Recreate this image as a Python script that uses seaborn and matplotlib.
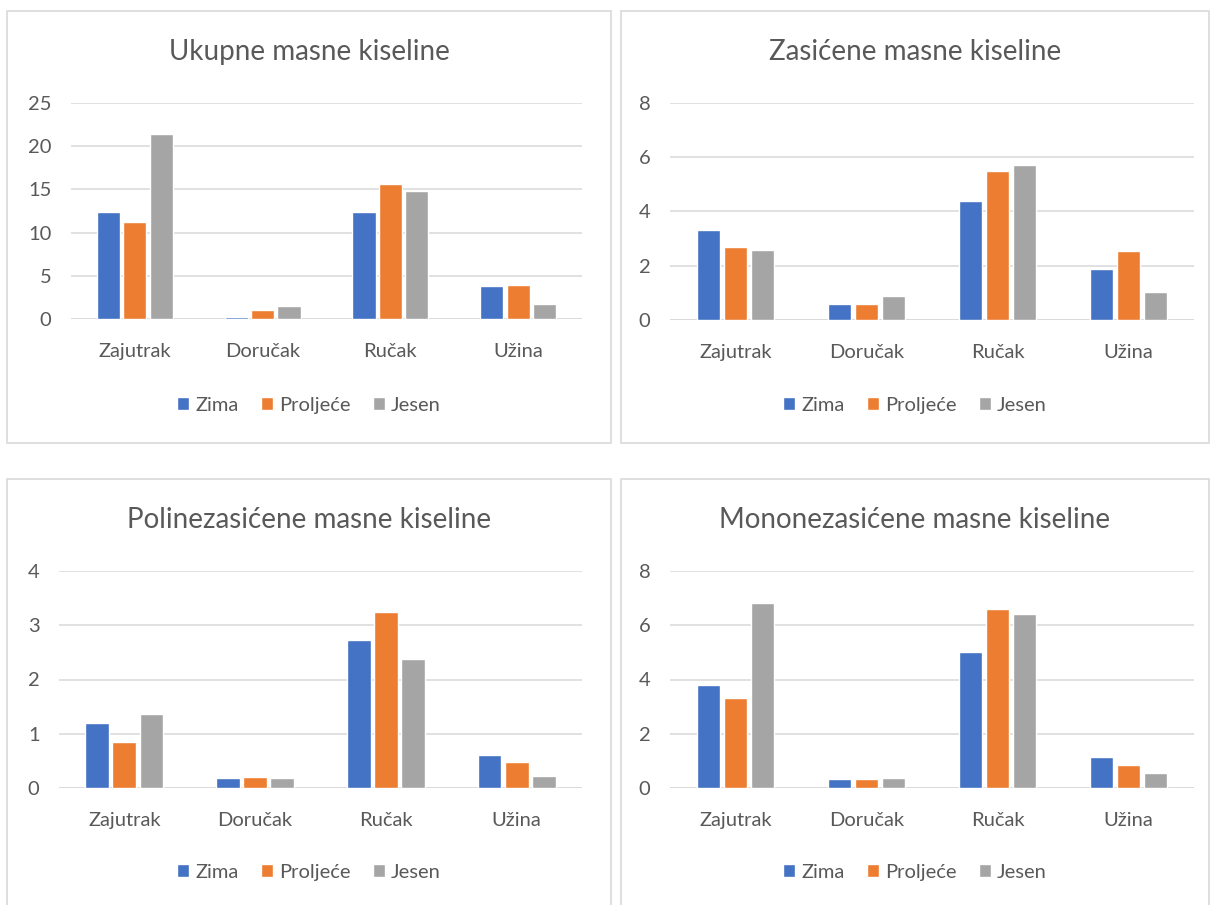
import pandas as pd
import matplotlib
matplotlib.use("Agg")
import matplotlib.pyplot as plt
from matplotlib.patches import Rectangle
import seaborn as sns

# podaci
obroci = ["Zajutrak", "Doručak", "Ručak", "Užina"]
sezone = ["Zima", "Proljeće", "Jesen"]

ukupne_zima = [12.4, 0.27, 12.4, 3.8]
ukupne_proljece = [11.2, 1.0, 15.6, 3.95]
ukupne_jesen = [21.4, 1.45, 14.8, 1.7]

zasicene_zima = [3.3, 0.6, 4.4, 1.88]
zasicene_proljece = [2.69, 0.6, 5.49, 2.54]
zasicene_jesen = [2.59, 0.88, 5.72, 1.03]

poli_zima = [1.19, 0.18, 2.72, 0.6]
poli_proljece = [0.84, 0.2, 3.24, 0.48]
poli_jesen = [1.36, 0.18, 2.37, 0.22]

mono_zima = [3.79, 0.32, 5.03, 1.15]
mono_proljece = [3.33, 0.32, 6.61, 0.83]
mono_jesen = [6.81, 0.36, 6.43, 0.55]

naslovi = ["Ukupne masne kiseline", "Zasićene masne kiseline",
           "Polinezasićene masne kiseline", "Mononezasićene masne kiseline"]
y_max = [25, 8, 4, 8]
y_korak = [5, 2, 1, 2]

boje = ["#4472C4", "#ED7D31", "#A5A5A5"]
siva = "#595959"
grid_boja = "#D9D9D9"

sns.set_theme(style="white")
plt.rcParams["font.family"] = ["Lato", "DejaVu Sans"]

W, H = 1210, 905
fig = plt.figure(figsize=(W / 100, H / 100), dpi=100)


def napravi_df(zima, proljece, jesen):
    redovi = []
    for serija, vrijednosti in zip(sezone, [zima, proljece, jesen]):
        for obrok, v in zip(obroci, vrijednosti):
            redovi.append({"obrok": obrok, "sezona": serija, "vrijednost": v})
    return pd.DataFrame(redovi)


podaci = [
    napravi_df(ukupne_zima, ukupne_proljece, ukupne_jesen),
    napravi_df(zasicene_zima, zasicene_proljece, zasicene_jesen),
    napravi_df(poli_zima, poli_proljece, poli_jesen),
    napravi_df(mono_zima, mono_proljece, mono_jesen),
]

# okviri panela (px): lijevo, gore, desno, dolje
okviri = [(7, 11, 611, 443), (621, 11, 1209, 443),
          (7, 479, 611, 930), (621, 479, 1209, 930)]
# podrucje crtanja (px): lijevo, gore, desno, dolje
osi = [(71, 103, 582, 319), (670, 103, 1194, 320),
       (59, 571, 582, 788), (670, 571, 1194, 788)]
naslov_y = [52, 52, 520, 520]
legenda_y = [405, 405, 872, 872]

for i in range(4):
    l, t, r, b = okviri[i]
    fig.add_artist(Rectangle((l / W, 1 - b / H), (r - l) / W, (b - t) / H,
                             transform=fig.transFigure, fill=False,
                             edgecolor=grid_boja, linewidth=1.2))

    l2, t2, r2, b2 = osi[i]
    ax = fig.add_axes([l2 / W, 1 - b2 / H, (r2 - l2) / W, (b2 - t2) / H])
    ax.set_axisbelow(True)

    sns.barplot(data=podaci[i], x="obrok", y="vrijednost", hue="sezona",
                order=obroci, hue_order=sezone, palette=boje,
                width=0.62, gap=0.12, ax=ax, saturation=1)

    ax.set_xlim(-0.5, 3.5)
    ax.set_ylim(0, y_max[i])
    ax.set_yticks(range(0, y_max[i] + 1, y_korak[i]))
    ax.yaxis.grid(True, color=grid_boja, linewidth=1.1)
    ax.xaxis.grid(False)
    for s in ax.spines.values():
        s.set_visible(False)
    ax.axhline(0, color=grid_boja, linewidth=1.1, zorder=0.5)
    ax.tick_params(axis="both", length=0, labelsize=14.5, colors=siva)
    ax.tick_params(axis="y", pad=14)
    ax.tick_params(axis="x", pad=17)
    ax.set_xlabel("")
    ax.set_ylabel("")

    cx = (l + r) / 2 / W
    fig.text(cx, 1 - naslov_y[i] / H, naslovi[i], ha="center", va="center",
             fontsize=20, color=siva)

    handles, labels = ax.get_legend_handles_labels()
    ax.legend(handles, labels, loc="center", bbox_to_anchor=(cx, 1 - legenda_y[i] / H),
              bbox_transform=fig.transFigure, ncol=3, frameon=False,
              handlelength=0.6, handleheight=0.6, handletextpad=0.3,
              columnspacing=1.1, fontsize=14.5, labelcolor=siva)

fig.savefig("out.png", dpi=100)
